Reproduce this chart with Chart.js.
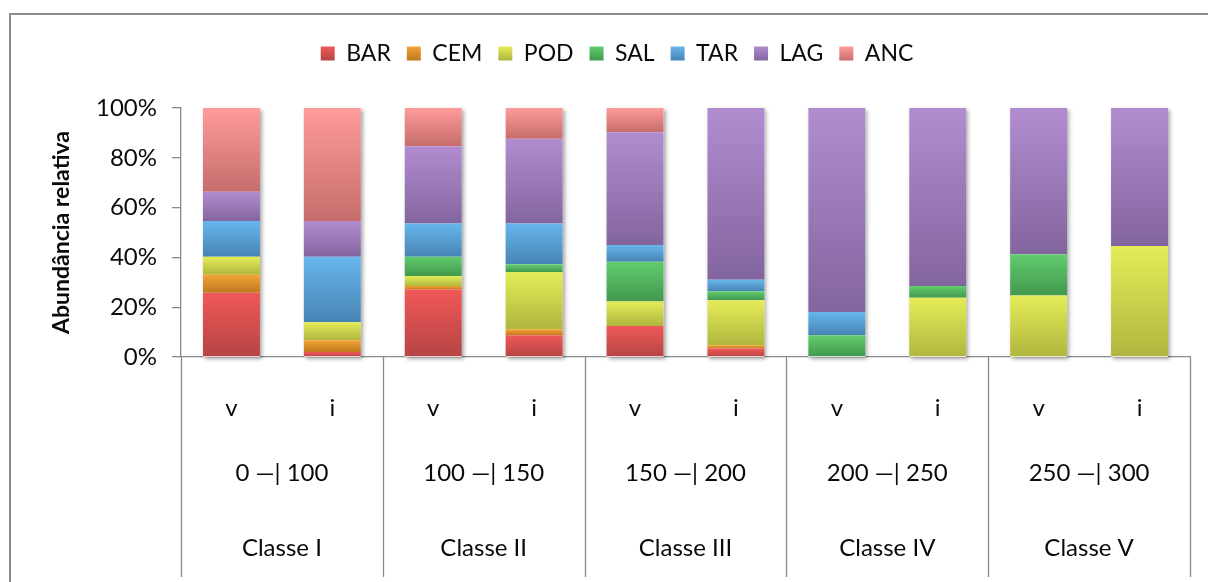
<!DOCTYPE html>
<html>
<head>
<meta charset="utf-8">
<script src="https://cdn.jsdelivr.net/npm/chart.js@4.4.0/dist/chart.umd.min.js"></script>
<style>
  html, body { margin: 0; padding: 0; background: #ffffff; }
  #wrap { width: 1208px; height: 582px; position: relative; }
</style>
</head>
<body>
<div id="wrap"><canvas id="chart" width="1208" height="582"></canvas></div>
<script>
// Categories: season (v / i) inside each depth range and class
const categories = ['v', 'i', 'v', 'i', 'v', 'i', 'v', 'i', 'v', 'i'];
const rangeLabels = ['0 —| 100', '100 —| 150', '150 —| 200', '200 —| 250', '250 —| 300'];
const classLabels = ['Classe I', 'Classe II', 'Classe III', 'Classe IV', 'Classe V'];
const yTickValues = [0, 20, 40, 60, 80, 100];

// Relative abundance (%) per species, one value per bar
const BAR = [25.8, 2.0, 27.1, 8.7, 12.5, 3.4, 0, 0, 0, 0];
const CEM = [7.2, 4.7, 1.4, 2.4, 0, 1.3, 0, 0, 0, 0];
const POD = [7.3, 7.3, 4.0, 23.0, 9.8, 18.1, 0, 23.8, 24.7, 44.6];
const SAL = [0, 0, 7.8, 3.1, 16.0, 3.6, 8.7, 4.7, 16.6, 0];
const TAR = [14.3, 26.3, 13.3, 16.4, 6.7, 4.6, 9.4, 0, 0, 0];
const LAG = [11.8, 14.3, 31.0, 34.1, 45.3, 69.0, 81.9, 71.5, 58.7, 55.4];
const ANC = [33.6, 45.4, 15.4, 12.3, 9.7, 0, 0, 0, 0, 0];

const seriesNames = ['BAR', 'CEM', 'POD', 'SAL', 'TAR', 'LAG', 'ANC'];
const seriesValues = [BAR, CEM, POD, SAL, TAR, LAG, ANC];

// light (top) / dark (bottom) shade of each species colour
const shades = {
  BAR: ['#f05858', '#b64444'],
  CEM: ['#f4a436', '#bf781e'],
  POD: ['#e4ec58', '#b0b63e'],
  SAL: ['#62cc6e', '#41984e'],
  TAR: ['#66b6ec', '#4884b4'],
  LAG: ['#b18dd0', '#83659e'],
  ANC: ['#ff9b9b', '#c66c6c']
};

const FONT = 'Lato, Carlito, Calibri, "Open Sans", sans-serif';
const AXIS_GRAY = '#8a8a8a';
const TEXT = '#0a0a0a';
const LEGEND_TOP = 26;
const LEGEND_PAD = 16;
const LEGEND_FONT = 23;
const BOX = 14;

function segmentGradient(ctx, name) {
  const [light, dark] = shades[name];
  if (ctx.type !== 'data') return light;
  const chart = ctx.chart;
  const y = chart.scales && chart.scales.y;
  if (!y) return light;
  const i = ctx.dataIndex;
  let start = 0;
  for (let k = 0; k < ctx.datasetIndex; k++) start += seriesValues[k][i];
  const end = start + seriesValues[ctx.datasetIndex][i];
  const top = y.getPixelForValue(end);
  const bottom = y.getPixelForValue(start);
  if (!isFinite(top) || !isFinite(bottom) || bottom - top < 0.5) return light;
  const g = chart.ctx.createLinearGradient(0, top, 0, bottom);
  g.addColorStop(0, light);
  g.addColorStop(1, dark);
  return g;
}

const datasets = seriesNames.map((name, d) => ({
  label: name,
  data: seriesValues[d],
  backgroundColor: (ctx) => segmentGradient(ctx, name),
  borderWidth: 0,
  categoryPercentage: 1.0,
  barPercentage: 0.565
}));

// white page and grey frame around the chart
const framePlugin = {
  id: 'frame',
  beforeDraw(chart) {
    const ctx = chart.ctx;
    ctx.save();
    ctx.fillStyle = '#ffffff';
    ctx.fillRect(0, 0, chart.width, chart.height);
    ctx.strokeStyle = '#8c8c8c';
    ctx.lineWidth = 2;
    ctx.strokeRect(10, 14, chart.width + 20, chart.height + 20);
    ctx.restore();
  }
};

// extra space between the legend row and the plot
const legendSpacer = {
  id: 'legendSpacer',
  beforeLayout(chart) {
    const lg = chart.legend;
    if (lg && !lg._spaced) {
      const fit = lg.fit;
      lg.fit = function () { fit.call(this); this.height += 33; };
      lg._spaced = true;
    }
  }
};

// soft shadow behind every full stacked column
const columnShadow = {
  id: 'columnShadow',
  beforeDatasetsDraw(chart) {
    const meta = chart.getDatasetMeta(0);
    const y = chart.scales.y;
    const ctx = chart.ctx;
    ctx.save();
    ctx.shadowColor = 'rgba(0,0,0,0.35)';
    ctx.shadowBlur = 4;
    ctx.shadowOffsetX = 2;
    ctx.shadowOffsetY = 2;
    ctx.fillStyle = '#ffffff';
    meta.data.forEach((el) => {
      const top = y.getPixelForValue(100);
      const bottom = y.getPixelForValue(0);
      ctx.fillRect(el.x - el.width / 2, top, el.width, bottom - top);
    });
    ctx.restore();
  }
};

// second and third category rows (depth range, class) with separators
const groupAxis = {
  id: 'groupAxis',
  afterDraw(chart) {
    const { ctx, chartArea, scales: { x } } = chart;
    const step = x.getPixelForValue(1) - x.getPixelForValue(0);
    const lineBottom = 577;
    ctx.save();
    ctx.strokeStyle = AXIS_GRAY;
    ctx.lineWidth = 1.3;
    ctx.beginPath();
    for (let g = 0; g <= rangeLabels.length; g++) {
      const px = g < rangeLabels.length
        ? x.getPixelForValue(g * 2) - step / 2
        : x.getPixelForValue(g * 2 - 1) + step / 2;
      ctx.moveTo(Math.round(px) + 0.5, chartArea.bottom);
      ctx.lineTo(Math.round(px) + 0.5, lineBottom);
    }
    ctx.stroke();
    ctx.fillStyle = TEXT;
    ctx.font = '24px ' + FONT;
    ctx.textAlign = 'center';
    ctx.textBaseline = 'middle';
    for (let g = 0; g < rangeLabels.length; g++) {
      const cx = (x.getPixelForValue(g * 2) + x.getPixelForValue(g * 2 + 1)) / 2;
      ctx.fillText(rangeLabels[g], cx, 473);
      ctx.fillText(classLabels[g], cx, 548);
    }
    ctx.restore();
  }
};

new Chart(document.getElementById('chart'), {
  type: 'bar',
  data: { labels: categories, datasets },
  plugins: [framePlugin, legendSpacer, columnShadow, groupAxis],
  options: {
    responsive: false,
    devicePixelRatio: 1,
    animation: false,
    layout: { padding: { top: LEGEND_TOP, left: 44, right: 18, bottom: 0 } },
    plugins: {
      tooltip: { enabled: false },
      legend: {
        position: 'top',
        labels: {
          font: { family: FONT, size: LEGEND_FONT },
          color: TEXT,
          boxWidth: BOX,
          boxHeight: BOX,
          padding: LEGEND_PAD,
          generateLabels(chart) {
            const items = Chart.defaults.plugins.legend.labels.generateLabels(chart);
            const boxTop = LEGEND_TOP + LEGEND_PAD + (LEGEND_FONT - BOX) / 2;
            items.forEach((it, k) => {
              const [light, dark] = shades[seriesNames[k]];
              const g = chart.ctx.createLinearGradient(0, boxTop, 0, boxTop + BOX);
              g.addColorStop(0, light);
              g.addColorStop(1, dark);
              it.fillStyle = g;
              it.strokeStyle = 'rgba(0,0,0,0)';
              it.lineWidth = 0;
            });
            return items;
          }
        }
      }
    },
    scales: {
      x: {
        stacked: true,
        grid: { display: false },
        border: { display: true, color: AXIS_GRAY, width: 1.3 },
        ticks: { font: { family: FONT, size: 24 }, color: TEXT, padding: 29, maxRotation: 0 },
        afterFit(scale) { scale.height = 225; }
      },
      y: {
        stacked: true,
        min: 0,
        max: 100,
        afterBuildTicks(scale) { scale.ticks = yTickValues.map(v => ({ value: v })); },
        ticks: {
          font: { family: FONT, size: 24 },
          color: TEXT,
          padding: 15,
          callback: (v) => v + '%'
        },
        grid: { drawOnChartArea: false, drawTicks: true, tickLength: 9, color: AXIS_GRAY, lineWidth: 1.3 },
        border: { display: true, color: AXIS_GRAY, width: 1.3 },
        title: {
          display: true,
          text: 'Abundância relativa',
          font: { family: FONT, size: 23, weight: 'bold' },
          color: TEXT,
          padding: { top: 4, bottom: 0 }
        },
        afterFit(scale) { scale.width = 137; }
      }
    }
  }
});

// left axis line continues down past the category rows
Chart.register({
  id: 'axisExtension',
  afterDraw(chart) {
    if (!chart.scales.y) return;
    const ctx = chart.ctx;
    const x0 = Math.round(chart.chartArea.left) + 0.5;
    ctx.save();
    ctx.strokeStyle = AXIS_GRAY;
    ctx.lineWidth = 1.3;
    ctx.beginPath();
    ctx.moveTo(x0, chart.chartArea.bottom);
    ctx.lineTo(x0, 577);
    ctx.stroke();
    ctx.restore();
  }
});
</script>
</body>
</html>
